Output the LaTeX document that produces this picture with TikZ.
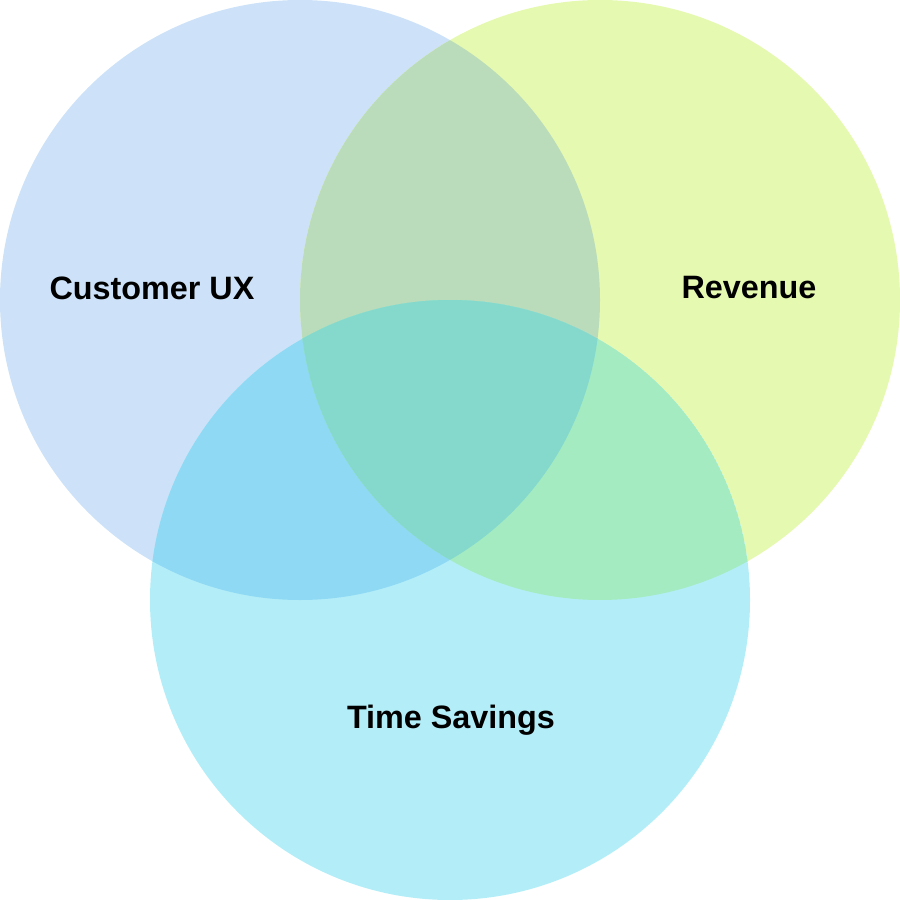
\documentclass[tikz,border=0pt]{standalone}
\usepackage{fontspec}
\setmainfont{Liberation Sans}
\definecolor{cblue}{HTML}{CDE2F8}
\definecolor{cyel}{HTML}{E5F9B0}
\definecolor{ccyan}{HTML}{B3EEF8}
\definecolor{cby}{HTML}{BBDCBB}
\definecolor{cbc}{HTML}{8FD9F4}
\definecolor{cyc}{HTML}{A4EBC2}
\definecolor{call}{HTML}{84D9CC}
\tikzset{lbl/.style={font=\fontsize{9.2pt}{11pt}\selectfont\bfseries, text=black, inner sep=0pt}}
\begin{document}
\begin{tikzpicture}[x=0.01cm,y=-0.01cm]
\useasboundingbox (0,0) rectangle (900,900);
\coordinate (A) at (300,300);
\coordinate (B) at (600,300);
\coordinate (C) at (450,600);
\fill[cblue] (A) circle[radius=300];
\fill[cyel] (B) circle[radius=300];
\fill[ccyan] (C) circle[radius=300];
\begin{scope}
\clip (A) circle[radius=300];
\fill[cby] (B) circle[radius=300];
\fill[cbc] (C) circle[radius=300];
\clip (B) circle[radius=300];
\fill[call] (C) circle[radius=300];
\end{scope}
\begin{scope}
\clip (B) circle[radius=300];
\clip (C) circle[radius=300];
\fill[cyc] (C) circle[radius=300];
\clip (A) circle[radius=300];
\fill[call] (C) circle[radius=300];
\end{scope}
\node[lbl] (ux) at (152,288) {Customer UX};
\node[lbl] (rev) at (749,288) {Revenue};
\node[lbl] (ts) at (451,720) {Time Savings};
\end{tikzpicture}
\end{document}
